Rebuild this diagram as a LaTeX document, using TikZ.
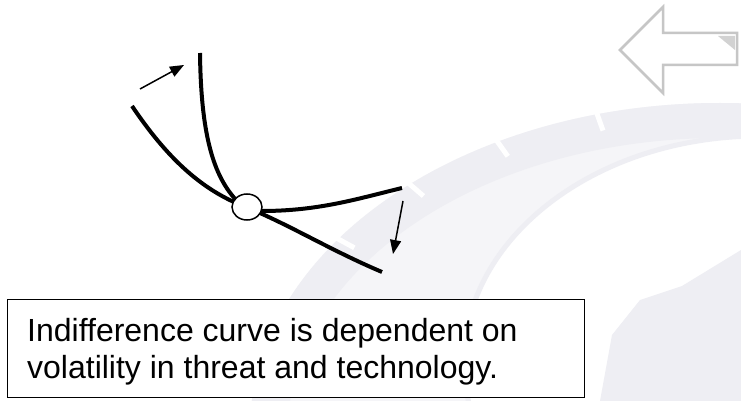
\documentclass[tikz,border=0pt]{standalone}
\usepackage{fontspec}
\setmainfont{Liberation Sans}
\usetikzlibrary{arrows.meta,shapes.geometric}
\definecolor{wm}{HTML}{EEEEF3}
\definecolor{wmlight}{HTML}{F5F5F8}
\begin{document}
\begin{tikzpicture}[x=1pt,y=-1pt,
  curve/.style={line width=4pt,line cap=butt},
  shift arrow/.style={line width=1.5pt,-{Triangle[length=14pt,width=11pt]}},
  caption/.style={font=\fontsize{32}{37}\selectfont,anchor=base west,inner sep=0pt},
  navarrow/.style={draw=gray!45,line width=2.5pt,fill=white,line join=miter}]
\useasboundingbox (0,0) rectangle (741,401);
\fill[white] (0,0) rectangle (741,401);
% faint watermark globe
\begin{scope}
\clip (0,0) rectangle (741,401);
\fill[wmlight] (720,430) ellipse [x radius=470,y radius=327];
\fill[wm,even odd rule] (720,430) ellipse [x radius=470,y radius=327]
                        (720,430) ellipse [x radius=432,y radius=292];
\foreach \a in {105,118,131,144,157} {
  \draw[white,line width=5pt] (720,430) ++(\a:{452 and -310}) -- ++(\a:{24 and -18});
}
\fill[white] (760,362) ellipse [x radius=296,y radius=226];
\draw[wm,line width=5pt] (760,362) ellipse [x radius=296,y radius=226];
\fill[wm] (600,401) -- (612,335) -- (640,300) -- (682,286) -- (741,250) -- (741,401) -- cycle;
\end{scope}
% navigation arrow (top right)
\draw[navarrow] (620,50) -- (663,7) -- (663,33) -- (737,33) -- (737,65) -- (663,65) -- (663,93) -- cycle;
\fill[gray!35] (718,36) -- (735,36) -- (735,50) -- cycle;
% indifference curves
\coordinate (a0) at (200,53);
\coordinate (a1) at (402,188);
\coordinate (b0) at (132,106);
\coordinate (b1) at (382,272);
\draw[curve] (a0) .. controls (201,140) and (215,180) .. (240,204)
  .. controls (248,211) and (255,211) .. (262,211)
  .. controls (320,211) and (360,198) .. (a1);
\draw[curve] (b0) .. controls (165,155) and (200,190) .. (246,207)
  .. controls (290,225) and (330,250) .. (b1);
\node[draw,line width=1.5pt,fill=white,ellipse,minimum width=30pt,minimum height=26pt,inner sep=0pt] (pt) at (247,207) {};
% shift arrows
\coordinate (s1) at (140,89);
\coordinate (e1) at (184,65);
\coordinate (s2) at (403,201);
\coordinate (e2) at (393,254);
\draw[shift arrow] (s1) -- (e1);
\draw[shift arrow] (s2) -- (e2);
% caption box
\node[draw,line width=1.2pt,fill=white,minimum width=577pt,minimum height=98pt,anchor=north west,inner sep=0pt] (box) at (7,299) {};
\node[caption] (l1) at (27,341) {Indifference curve is dependent on};
\node[caption] (l2) at (27,378) {volatility in threat and technology.};
\end{tikzpicture}
\end{document}
